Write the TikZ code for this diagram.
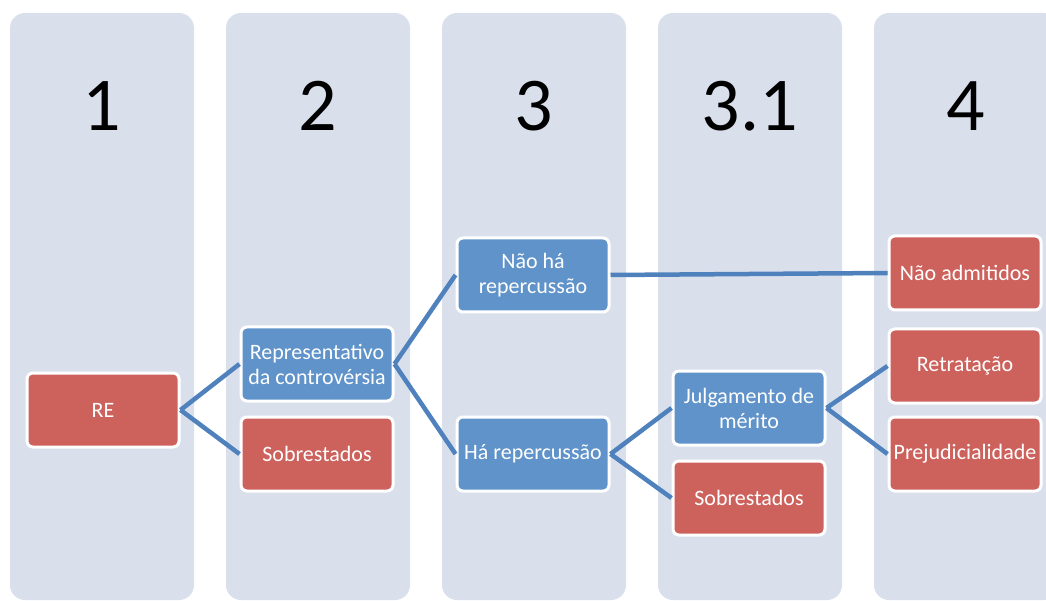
\documentclass[tikz,border=0pt]{standalone}
\usepackage{fontspec}
\setmainfont{Carlito}
\usepackage{xcolor}
\definecolor{colbg}{HTML}{D9E0EC}
\definecolor{boxred}{HTML}{CD625D}
\definecolor{boxblue}{HTML}{5F93C9}
\definecolor{linkblue}{HTML}{4F81BD}
\usetikzlibrary{calc}

\begin{document}
\begin{tikzpicture}[x=1pt, y=-1pt,
	column/.style={fill=colbg, rounded corners=15pt},
	header/.style={font=\fontsize{76}{80}\selectfont, text=black},
	stage/.style={rectangle, rounded corners=6pt, draw=white, line width=3pt, minimum width=152pt, minimum height=74pt, inner sep=2pt, align=center, text=white, font=\fontsize{22}{25}\selectfont},
	redstage/.style={stage, fill=boxred},
	bluestage/.style={stage, fill=boxblue},
	link/.style={draw=linkblue, line width=4.5pt}]
	\clip (0,0) rectangle (1046,601);
	\fill[white] (0,0) rectangle (1046,601);
	\foreach \x/\lab in {10/1, 226/2, 442/3, 658/3.1, 874/4} {
		\fill[column] (\x,13) rectangle ++(184,587);
		\node[header] at ($(\x,106)+(92,0)$) {\lab};
	}
	\node[redstage] (re) at (103,410) {RE};
	\node[bluestage] (repr) at (317,364) {Representativo\\da controvérsia};
	\node[redstage] (sobr2) at (317,454) {Sobrestados};
	\node[bluestage] (naorep) at (533,275) {Não há\\repercussão};
	\node[bluestage] (harep) at (533,454) {Há repercussão};
	\node[bluestage] (julg) at (749,408) {Julgamento de\\mérito};
	\node[redstage] (sobr3) at (749,498) {Sobrestados};
	\node[redstage] (naoadm) at (965,273) {Não admitidos};
	\node[redstage] (retr) at (965,366) {Retratação};
	\node[redstage] (prej) at (965,454) {Prejudicialidade};
	\draw[link] (re.east) -- (repr.west);
	\draw[link] (re.east) -- (sobr2.west);
	\draw[link] (repr.east) -- (naorep.west);
	\draw[link] (repr.east) -- (harep.west);
	\draw[link] (naorep.east) -- (naoadm.west);
	\draw[link] (harep.east) -- (julg.west);
	\draw[link] (harep.east) -- (sobr3.west);
	\draw[link] (julg.east) -- (retr.west);
	\draw[link] (julg.east) -- (prej.west);
\end{tikzpicture}
\end{document}
